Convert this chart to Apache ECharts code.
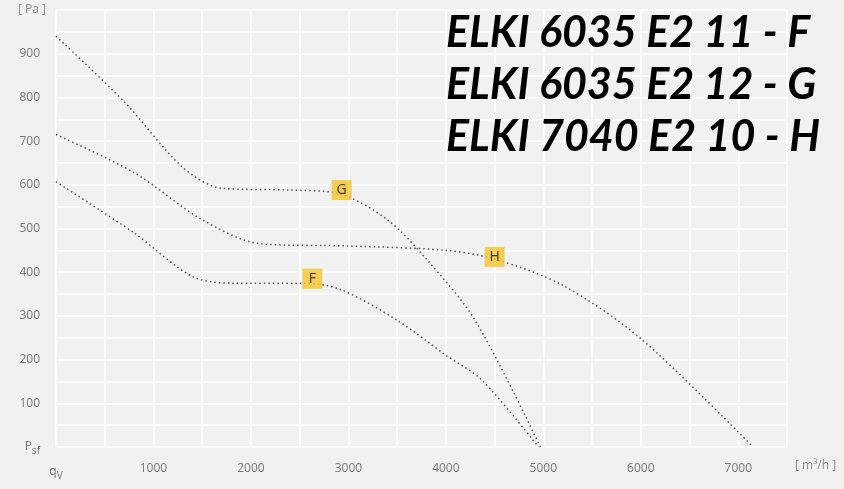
<!DOCTYPE html>
<html><head><meta charset="utf-8">
<script src="https://cdn.jsdelivr.net/npm/echarts@6/dist/echarts.min.js"></script>
<style>html,body{margin:0;padding:0;background:#f1f1f1}#c{width:844px;height:489px}</style>
</head><body><div id="c"></div>
<script>
const curveG = [[0,940],[700,790],[1300,640],[1700,592],[2400,588],[2900,580],[3400,520],[3800,430],[4300,290],[4970,0]];
const curveH = [[0,715],[800,628],[1500,520],[2100,465],[3000,460],[4000,450],[4500,430],[5200,370],[6000,248],[7130,5]];
const curveF = [[0,607],[800,490],[1400,390],[1800,375],[2500,375],[2900,362],[3500,290],[4000,210],[4370,153],[4950,0]];
const labels = [["G",2930,588],["H",4500,435],["F",2630,385]];
const titles = ["ELKI 6035 E2 11 - F","ELKI 6035 E2 12 - G","ELKI 7040 E2 10 - H"];

const lineStyle = {color:'#555', width:1.5, type:[1.5,3]};
const mk = d => ({type:'line', data:d, smooth:0.3, symbol:'none', lineStyle, z:2});
const chart = echarts.init(document.getElementById('c'));
chart.setOption({
  backgroundColor:'#f1f1f1',
  animation:false,
  grid:{left:56, right:57, top:10, bottom:42},
  xAxis:{type:'value', min:0, max:7500, interval:500,
    axisLine:{show:false}, axisTick:{show:false},
    splitLine:{lineStyle:{color:'#fff', width:1.5}},
    axisLabel:{margin:16, color:'#777', fontSize:12, fontFamily:'Open Sans',
      formatter:v=> v===0?'q{s|V}':(v%1000===0 && v<7500? String(v):''),
      rich:{s:{fontSize:10, color:'#777', padding:[8,0,0,0]}}}},
  yAxis:{type:'value', min:0, max:1000, interval:50,
    axisLine:{show:false}, axisTick:{show:false},
    splitLine:{lineStyle:{color:'#fff', width:1.5}},
    axisLabel:{margin:16, color:'#777', fontSize:12, fontFamily:'Open Sans',
      formatter:v=> v===0?'P{s|sf}':(v%100===0 && v<1000? String(v):''),
      rich:{s:{fontSize:10, color:'#777', padding:[8,0,0,0]}}}},
  graphic:[
    {type:'text', left:18, top:4, style:{text:'[ Pa ]', fill:'#888', font:'12px "Open Sans"'}},
    {type:'text', left:795, top:460, style:{text:'[ m³/h ]', fill:'#888', font:'12px "Open Sans"'}},
    ...titles.map((t,i)=>({type:'text', left:446, top:12+i*52, z:10,
      style:{text:t, fill:'#000', font:'italic bold 43px Lato'}}))
  ],
  series:[mk(curveF), mk(curveG), mk(curveH),
    {type:'scatter', data:labels.map(l=>[l[1],l[2],l[0]]), symbol:'rect', symbolSize:[20,20],
     itemStyle:{color:'#f4c430'}, z:5,
     label:{show:true, position:'inside', formatter:p=>p.data[2], color:'#111', fontSize:14, fontFamily:'Open Sans'}}]
});
</script></body></html>
